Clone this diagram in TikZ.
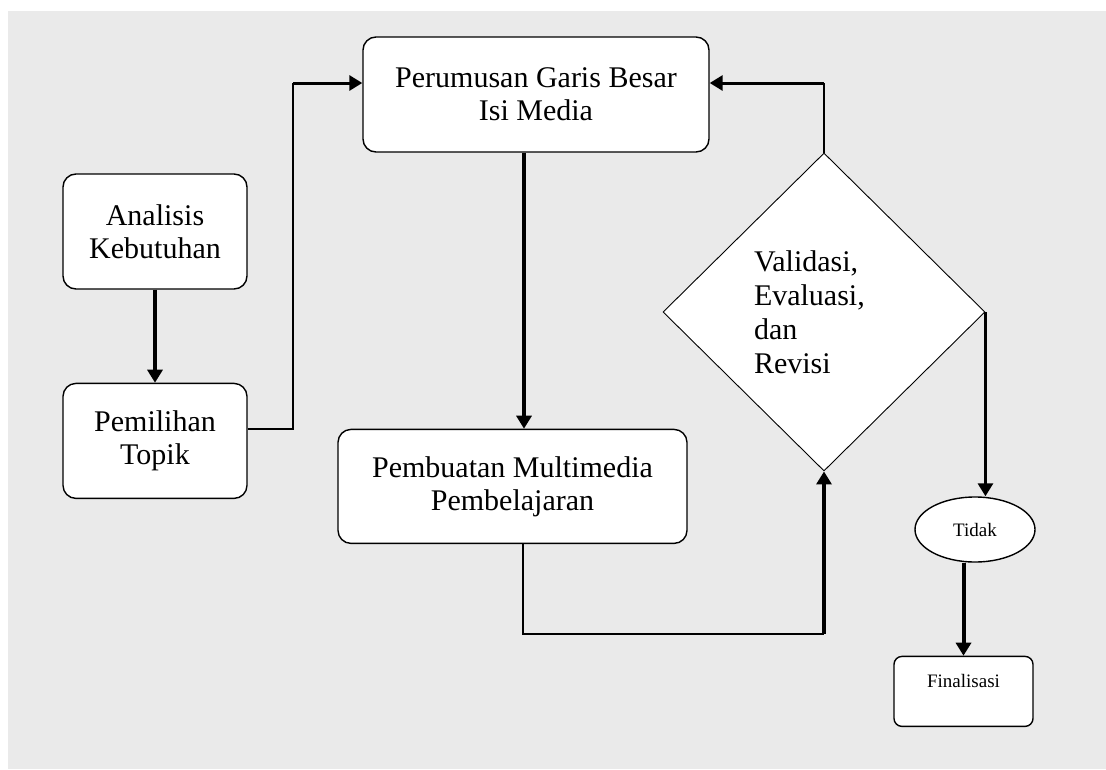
\documentclass[tikz,border=0pt]{standalone}
\usepackage{fontspec}
\setmainfont{Liberation Serif}
\usetikzlibrary{positioning,shapes.geometric,arrows.meta}
\definecolor{sheet}{RGB}{234,234,234}

\begin{document}
\begin{tikzpicture}[x=1pt,y=-1pt,
	box/.style={draw,rectangle,rounded corners=13pt,fill=white,line width=1.4pt,align=center,inner sep=0pt,font=\fontsize{30}{33}\selectfont},
	smallbox/.style={draw,rectangle,rounded corners=8pt,fill=white,line width=1.4pt,inner sep=10pt,font=\fontsize{19}{21}\selectfont},
	check/.style={draw,diamond,aspect=1,fill=white,line width=0.9pt,inner sep=0pt,text width=140pt,align=left,font=\fontsize{30}{34}\selectfont},
	answer/.style={draw,ellipse,fill=white,line width=1.4pt,inner sep=0pt,font=\fontsize{19}{21}\selectfont},
	link/.style={line width=2pt},
	flow/.style={line width=4pt,-{Triangle[length=13pt,width=15pt]}},
	back/.style={line width=3pt,-{Triangle[length=13pt,width=15pt]}}]
		\useasboundingbox (0,0) rectangle (1106,769);
		\fill[white] (0,0) rectangle (1106,769);
		\fill[sheet] (8,11) rectangle (1106,769);

		\node[box,minimum width=184pt,minimum height=115pt]	at (155,231.5)	(analisis)		{Analisis\\Kebutuhan};
		\node[box,minimum width=184pt,minimum height=115pt,node distance=93pt,below=of analisis]	(pemilihan)	{Pemilihan\\Topik};
		\node[box,minimum width=346pt,minimum height=115pt]	at (536,94.5)	(perumusan)		{Perumusan Garis Besar\\Isi Media};
		\node[box,minimum width=349pt,minimum height=114pt,node distance=276pt,below=of perumusan,xshift=-23.5pt]	(pembuatan)	{Pembuatan Multimedia\\Pembelajaran};
		\node[check,minimum width=322pt,minimum height=318pt]	at (824,312)	(validasi)		{Validasi,\\Evaluasi,\\dan\\Revisi};
		\node[answer,minimum width=120pt,minimum height=65pt]	at (975,529.5)	(tidak)		{Tidak};
		\node[smallbox,minimum width=139pt,text height=21pt,text depth=29pt,node distance=93pt,below=of tidak,xshift=-11.5pt]	(finalisasi)	{Finalisasi};

		\coordinate (rise) at (293,83);
		\coordinate (rejoin) at (824,634);
		\coordinate (loop) at (824,83);

		\draw[flow] (analisis) -- (pemilihan);
		\draw[link] ([yshift=11.5pt]pemilihan.east) -| (rise);
		\draw[back] (rise) -- (rise -| perumusan.west);
		\draw[flow] ([xshift=-12pt]perumusan.south) -- ([xshift=-12pt]perumusan.south |- pembuatan.north);
		\draw[link] ([xshift=10.5pt]pembuatan.south) |- (rejoin);
		\draw[flow] (rejoin) -- (validasi.south);
		\draw[link] (validasi.north) -- (loop);
		\draw[back] (loop) -- (loop -| perumusan.east);
		\draw[back] (validasi.east) -- (validasi.east |- tidak.north);
		\draw[flow] (tidak.south -| finalisasi.north) -- (finalisasi.north);
	\end{tikzpicture}
\end{document}
